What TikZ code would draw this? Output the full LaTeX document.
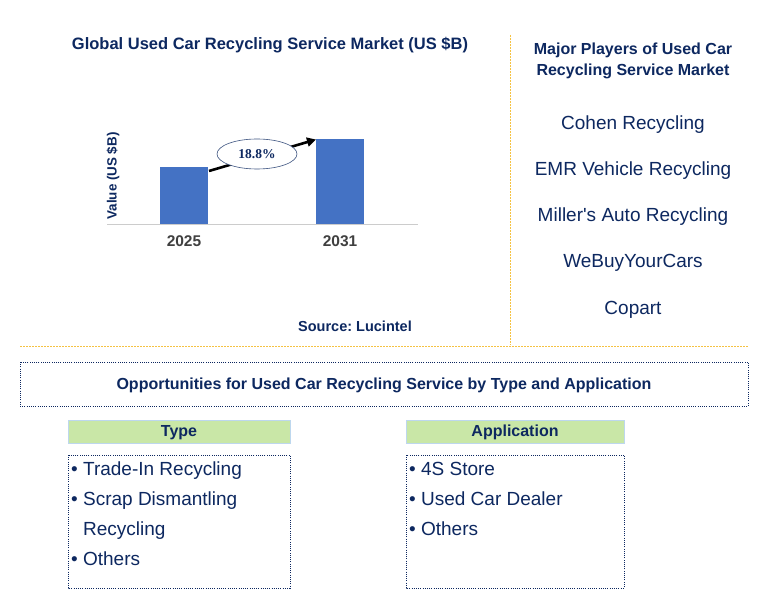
\documentclass[tikz,border=0pt]{standalone}
\usepackage{fontspec}
\setmainfont{Liberation Sans}
\newfontfamily\serifb{Liberation Serif}
\usetikzlibrary{shapes.geometric,arrows.meta}
\definecolor{navy}{HTML}{0D2860}
\definecolor{barblue}{HTML}{4472C4}
\definecolor{sep}{HTML}{F5C242}
\definecolor{hdrgreen}{HTML}{C9E7A7}
\definecolor{hdrline}{HTML}{BDD7EE}
\definecolor{yeargray}{HTML}{404040}
\tikzset{
  txt/.style={text=navy, inner sep=0pt, anchor=center},
  bigtitle/.style={txt, font=\fontsize{16}{18}\selectfont\bfseries},
  player/.style={txt, text height=13.6pt, text depth=4pt, font=\fontsize{19}{21}\selectfont},
  item/.style={txt, anchor=west, text height=13.6pt, text depth=4pt, font=\fontsize{19}{21}\selectfont},
  dotbox/.style={draw=navy, line width=0.9pt, dash pattern=on 1pt off 1.2pt},
  hdr/.style={draw=hdrline, fill=hdrgreen, line width=0.8pt},
  sepline/.style={draw=sep, line width=0.8pt, dash pattern=on 2pt off 1pt},
  bar/.style={fill=barblue, draw=none},
  year/.style={text=yeargray, inner sep=0pt, font=\fontsize{15.5}{17}\selectfont\bfseries},
}
\begin{document}
\frenchspacing
\begin{tikzpicture}[x=1pt,y=-1pt]
\useasboundingbox[fill=white] (0,0) rectangle (773,609);
% chart title
\node[txt, font=\fontsize{16.5}{18}\selectfont\bfseries] (title) at (270,45) {Global Used Car Recycling Service Market (US \$B)};
% axis
\coordinate (axL) at (107,224);
\coordinate (axR) at (418,224);
\draw[draw=black!20, line width=0.8pt] (axL) -- (axR);
\fill[bar] (160,167) rectangle (208,224);
\fill[bar] (316,139) rectangle (364,224);
\coordinate (b1) at (209,171);
\coordinate (b2) at (316,139.5);
\node[year] (y1) at (184,241) {2025};
\node[year] (y2) at (340,241) {2031};
\node[txt, rotate=90, font=\fontsize{13.4}{15}\selectfont\bfseries] (ylab) at (113,176) {Value (US \$B)};
\draw[line width=2.6pt, -{Triangle[length=9pt,width=9pt]}] (b1) -- (b2);
\node[ellipse, draw=navy!80, line width=0.6pt, fill=white, minimum width=80pt, minimum height=30pt, inner sep=0pt, text=navy, font=\serifb\fontsize{13.5}{15}\selectfont\bfseries] (cagr) at (257,154) {18.8\%};
\node[txt, font=\fontsize{14.5}{16}\selectfont\bfseries] (src) at (355,326) {Source: Lucintel};
% separators
\coordinate (vsT) at (510,35);
\coordinate (vsB) at (510,345);
\draw[sepline] (vsT) -- (vsB);
\coordinate (hsL) at (20,346);
\coordinate (hsR) at (748,346);
\draw[sepline] (hsL) -- (hsR);
% players
\node[txt, align=center, font=\fontsize{16}{21}\selectfont\bfseries] (mp) at (633,60.5) {Major Players of Used Car\\Recycling Service Market};
\node[player] (p1) at (633,125) {Cohen Recycling};
\node[player] (p2) at (633,171) {EMR Vehicle Recycling};
\node[player] (p3) at (633,217) {Miller\textquotesingle s Auto Recycling};
\node[player] (p4) at (633,263) {WeBuyYourCars};
\node[player] (p5) at (633,310) {Copart};
% opportunities
\draw[dotbox] (20,362) rectangle (748,406);
\node[bigtitle] (opp) at (384,385) {Opportunities for Used Car Recycling Service by Type and Application};
% headers
\draw[hdr] (68,420) rectangle (290,443);
\node[bigtitle] (th) at (179,432.5) {Type};
\draw[hdr] (406,420) rectangle (624,443);
\node[bigtitle] (ah) at (515,432.5) {Application};
% lists
\draw[dotbox] (68,455) rectangle (290,588);
\draw[dotbox] (406,455) rectangle (624,588);
\node[item] (t1) at (71,471) {\textbullet{} Trade-In Recycling};
\node[item] (t2) at (71,501) {\textbullet{} Scrap Dismantling};
\node[item] (t3) at (71,531) {\phantom{\textbullet{}} Recycling};
\node[item] (t4) at (71,561) {\textbullet{} Others};
\node[item] (a1) at (409,471) {\textbullet{} 4S Store};
\node[item] (a2) at (409,501) {\textbullet{} Used Car Dealer};
\node[item] (a3) at (409,531) {\textbullet{} Others};
\end{tikzpicture}
\end{document}
